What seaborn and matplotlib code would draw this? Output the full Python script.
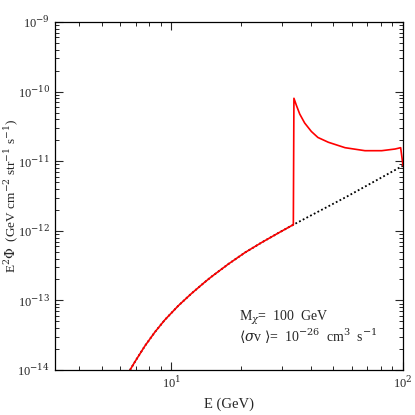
import numpy as np
import pandas as pd
import matplotlib
matplotlib.use("Agg")
import matplotlib.pyplot as plt
import seaborn as sns

# Continuum (dotted black) spectrum: energy (GeV) and log10(E^2 Phi)
E_cont = [6.62, 6.96, 7.68, 8.48, 9.37, 10.70, 12.23, 13.86, 14.92, 17.60, 20.78, 24.52, 28.93,
          33.05, 57.1, 97.0, 100.0]
logF_cont = [-14.0, -13.879, -13.654, -13.455, -13.278, -13.077, -12.898, -12.743, -12.657,
             -12.478, -12.312, -12.168, -12.032, -11.925, -11.51, -11.088, -11.065]

# Total spectrum with the gamma-ray line feature (red)
E_tot = [6.62, 6.96, 7.68, 8.48, 9.37, 10.70, 12.23, 13.86, 14.92, 17.60, 20.78, 24.52, 28.93,
         33.05, 33.6, 33.8, 34.6, 35.8, 37.6, 40.2, 42.9, 47.6, 56.2, 68.5, 80.9, 92.4, 97.7, 100.0]
logF_tot = [-14.0, -13.879, -13.654, -13.455, -13.278, -13.077, -12.898, -12.743, -12.657,
            -12.478, -12.312, -12.168, -12.032, -11.925, -11.915, -10.096, -10.193, -10.322,
            -10.451, -10.573, -10.659, -10.728, -10.806, -10.849, -10.849, -10.825, -10.806, -11.065]

x_ticks = [10, 100]
x_tick_labels = [r"10$^{1}$", r"10$^{2}$"]
y_ticks = [1e-14, 1e-13, 1e-12, 1e-11, 1e-10, 1e-9]
y_tick_labels = [r"10$^{-14}$", r"10$^{-13}$", r"10$^{-12}$", r"10$^{-11}$", r"10$^{-10}$", r"10$^{-9}$"]

sns.set_style("ticks")
plt.rcParams["font.family"] = ["Liberation Serif", "DejaVu Serif"]
plt.rcParams["mathtext.fontset"] = "dejavuserif"
plt.rcParams["mathtext.rm"] = "Liberation Serif"

df_cont = pd.DataFrame({"E": E_cont, "F": 10 ** np.array(logF_cont)})
df_tot = pd.DataFrame({"E": E_tot, "F": 10 ** np.array(logF_tot)})

fig = plt.figure(figsize=(4.15, 4.15), dpi=100)
ax = fig.add_axes([0.1325, 0.1084, 0.8386, 0.8386])

sns.lineplot(data=df_cont, x="E", y="F", ax=ax, color="black", linestyle=(0, (1, 1.3)),
             linewidth=1.3, sort=False, estimator=None)
sns.lineplot(data=df_tot, x="E", y="F", ax=ax, color="red", linewidth=1.2,
             sort=False, estimator=None)

ax.set_xscale("log")
ax.set_yscale("log")
ax.set_xlim(3.14, 100)
ax.set_ylim(1e-14, 1e-9)
ax.set_xticks(x_ticks)
ax.set_xticklabels(x_tick_labels)
ax.set_yticks(y_ticks)
ax.set_yticklabels(y_tick_labels)
ax.xaxis.set_minor_locator(matplotlib.ticker.LogLocator(base=10, subs=np.arange(2, 10)))
ax.yaxis.set_minor_locator(matplotlib.ticker.LogLocator(base=10, subs=np.arange(2, 10), numticks=20))
ax.xaxis.set_minor_formatter(matplotlib.ticker.NullFormatter())
ax.yaxis.set_minor_formatter(matplotlib.ticker.NullFormatter())
ax.tick_params(which="both", direction="in", top=True, right=True, labelsize=9)
ax.tick_params(which="major", length=5.5, width=0.8)
ax.tick_params(which="minor", length=3, width=0.7)
for s in ax.spines.values():
    s.set_linewidth(0.9)
    s.set_color("black")

ax.set_xlabel("E (GeV)", fontsize=10.5, labelpad=5)
ax.set_ylabel(r"E$^{2}\Phi$  (GeV cm$^{-2}$ str$^{-1}$ s$^{-1}$)", fontsize=9.5)
ax.yaxis.set_label_coords(-0.098, 0.5)

ax.text(0.529, 0.150, r"M$_{\chi}$=  100  GeV", transform=ax.transAxes, fontsize=10, va="center")
ax.text(0.529, 0.098, r"$\langle\sigma$v $\rangle$=  10$^{-26}$  cm$^{3}$  s$^{-1}$", transform=ax.transAxes,
        fontsize=10, va="center")

fig.savefig("out.png", dpi=100)
